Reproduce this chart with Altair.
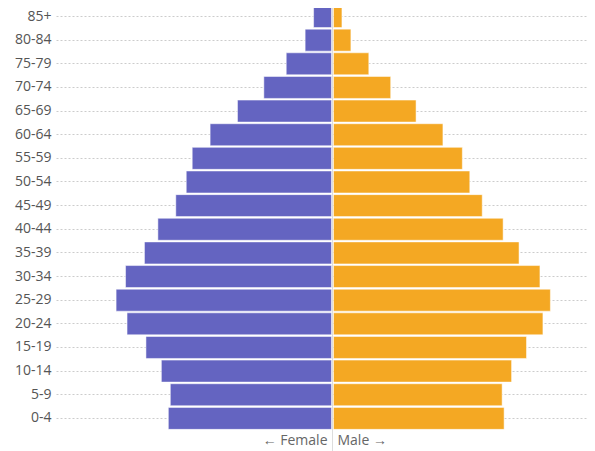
import altair as alt
import pandas as pd

# Age groups (bottom to top) and population shares (%)
age_groups = ["0-4", "5-9", "10-14", "15-19", "20-24", "25-29", "30-34", "35-39",
              "40-44", "45-49", "50-54", "55-59", "60-64", "65-69", "70-74",
              "75-79", "80-84", "85+"]
female = [3.30, 3.26, 3.44, 3.75, 4.13, 4.35, 4.16, 3.78, 3.51, 3.15, 2.94,
          2.82, 2.46, 1.91, 1.38, 0.93, 0.55, 0.38]
male = [3.45, 3.41, 3.60, 3.90, 4.23, 4.38, 4.17, 3.75, 3.43, 3.01, 2.76,
        2.61, 2.22, 1.68, 1.17, 0.73, 0.37, 0.19]

rows = []
for a, f, m in zip(age_groups, female, male):
    rows.append({"age": a, "sex": "Female", "value": f, "signed": -f})
    rows.append({"age": a, "sex": "Male", "value": m, "signed": m})
df = pd.DataFrame(rows)

order_top_down = list(reversed(age_groups))

x_scale = alt.Scale(domain=[-5.558, 5.116], nice=False, zero=False)
y_scale = alt.Scale(domain=order_top_down, range=[-3.3, 422.2],
                    paddingInner=0.07, paddingOuter=0.035)
y_enc = alt.Y("age:N", scale=y_scale, sort=order_top_down,
              axis=alt.Axis(title=None, grid=True, gridDash=[2, 2],
                            gridColor="#cccccc", gridWidth=1, domain=False,
                            ticks=False, labelPadding=5, labelFont="Open Sans",
                            labelFontSize=14, labelColor="#555555"))

base = alt.Chart(df)

fem = base.transform_filter(alt.datum.sex == "Female").mark_bar(
    color="#6464c1", stroke="white", strokeOpacity=0.5, strokeWidth=1,
    x2Offset=-1
).encode(
    x=alt.X("signed:Q", scale=x_scale, axis=None),
    x2=alt.datum(0),
    y=y_enc,
)

mal = base.transform_filter(alt.datum.sex == "Male").mark_bar(
    color="#f4a823", stroke="white", strokeOpacity=0.5, strokeWidth=1,
    x2Offset=1
).encode(
    x=alt.X("signed:Q", scale=x_scale, axis=None),
    x2=alt.datum(0),
    y=y_enc,
)

center = alt.Chart(pd.DataFrame({"v": [0]})).mark_rule(
    color="#dddddd", strokeWidth=1
).encode(
    x=alt.datum(0),
    y=alt.value(0),
    y2=alt.value(443),
)

lab_f = alt.Chart(pd.DataFrame({"t": ["← Female"]})).mark_text(
    align="right", baseline="middle", dx=-5, font="Open Sans",
    fontSize=14, color="#666666"
).encode(x=alt.datum(0), y=alt.value(433), text="t:N")

lab_m = alt.Chart(pd.DataFrame({"t": ["Male →"]})).mark_text(
    align="left", baseline="middle", dx=5, font="Open Sans",
    fontSize=14, color="#666666"
).encode(x=alt.datum(0), y=alt.value(433), text="t:N")

chart = alt.layer(fem, mal, center, lab_f, lab_m).properties(
    width=531,
    height=423,
    autosize=alt.AutoSizeParams(type="none"),
    padding={"left": 48, "top": 0, "right": 0, "bottom": 20},
).configure_view(stroke=None)

chart.save("out.html", embed_options={"renderer": "svg", "actions": False})
